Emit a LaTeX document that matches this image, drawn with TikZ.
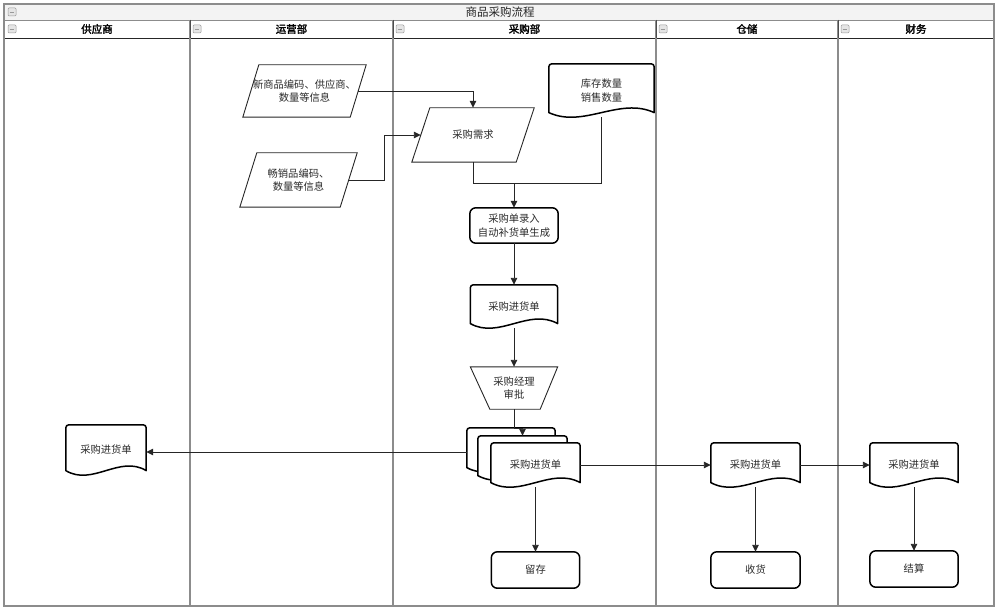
\documentclass[tikz,border=0pt]{standalone}
\usepackage{fontspec}
\setmainfont{Noto Sans CJK SC}
\newfontfamily\cjkbold{Noto Sans CJK SC}[FakeBold=2]
\usetikzlibrary{calc,arrows.meta}
\pgfdeclarelayer{background}
\pgfsetlayers{background,main}
\definecolor{lanegray}{HTML}{8C8C8C}
\definecolor{titlefill}{HTML}{F3F3F3}
\definecolor{txtcol}{HTML}{2B2B2B}
\definecolor{linecol}{HTML}{262626}
\tikzset{
  txt/.style={font=\fontsize{10.3}{13.5}\selectfont, align=center, text=txtcol, inner sep=0pt},
  boxnode/.style={txt, minimum width=#1},
  thickshape/.style={draw=black, line width=1.5pt, fill=white, line join=round},
  thinshape/.style={draw=black!85, line width=0.9pt, fill=white},
  arr/.style={draw=linecol, line width=0.9pt, -{Triangle[length=7pt,width=6.5pt]}},
  plainline/.style={draw=linecol, line width=0.9pt},
  hdr/.style={font=\cjkbold\fontsize{10.5}{12}\selectfont, text=black, inner sep=0pt},
  ttl/.style={font=\fontsize{11.5}{13}\selectfont, text=black!85, inner sep=0pt},
  iconbox/.style={draw=gray!80, fill=gray!20, rounded corners=1pt, line width=0.5pt}
}
% document outline: top corners rounded, bottom wave
\newcommand\docout[1]{%
  \draw[thickshape] ($(#1.south west)+(0,-4.6)$) [rounded corners=3pt] -- (#1.north west) -- (#1.north east) [sharp corners] -- ($(#1.south east)+(0,-4.6)$)
   .. controls ($(#1.south east)!0.33!(#1.south west)+(0,-20.6)$) and ($(#1.south east)!0.67!(#1.south west)+(0,11.4)$) .. ($(#1.south west)+(0,-4.6)$) -- cycle;}
% parallelogram outline
\newcommand\paraout[2]{%
  \draw[thinshape] ($(#1.north west)+(#2,0)$) -- ($(#1.north east)+(#2,0)$) -- ($(#1.south east)+(-#2,0)$) -- ($(#1.south west)+(-#2,0)$) -- cycle;}
% rounded rectangle outline
\newcommand\rrout[1]{%
  \draw[thickshape, rounded corners=6pt] (#1.south west) rectangle (#1.north east);}
% collapse icon
\newcommand\collapseicon[2]{%
  \draw[iconbox] (#1-4,#2-4) rectangle (#1+4,#2+4);
  \draw[gray!80, line width=0.7pt] (#1-2.3,#2) -- (#1+2.3,#2);}
\begin{document}
\begin{tikzpicture}[x=1pt,y=-1pt]
\useasboundingbox (0,0) rectangle (1000,612);

% ---------- nodes ----------
\node[ttl] (title) at (500,12) {商品采购流程};
\node[hdr] (h1) at (97,29) {供应商};
\node[hdr] (h2) at (291.5,29) {运营部};
\node[hdr] (h3) at (524.5,29) {采购部};
\node[hdr] (h4) at (747,29) {仓储};
\node[hdr] (h5) at (916,29) {财务};

\node[boxnode=107pt, minimum height=52pt] (P1) at (304.5,91) {新商品编码、供应商、\\数量等信息};
\node[boxnode=100pt, minimum height=54pt] (P2) at (298.5,180) {畅销品编码、\\数量等信息};
\node[boxnode=104pt, minimum height=54pt] (P3) at (473,135) {采购需求};
\node[boxnode=105pt, minimum height=53pt] (D1) at (601.5,90.5) {库存数量\\销售数量};
\node[boxnode=88pt, minimum height=35pt] (R1) at (514,225.5) {采购单录入\\自动补货单生成};
\node[boxnode=87pt, minimum height=43pt] (D2) at (514,306.5) {采购进货单};
\node[boxnode=87pt, minimum height=42pt] (T1) at (514,388) {采购经理\\审批};
\node[boxnode=88pt, minimum height=44pt] (M1) at (511,450) {};
\node[boxnode=89pt, minimum height=44pt] (M2) at (522.5,458) {};
\node[boxnode=89pt, minimum height=44pt] (M3) at (535.5,465) {采购进货单};
\node[boxnode=80pt, minimum height=50pt] (DS) at (106,450) {采购进货单};
\node[boxnode=89pt, minimum height=44pt] (DW) at (755.5,465) {采购进货单};
\node[boxnode=88pt, minimum height=44pt] (DF) at (914,465) {采购进货单};
\node[boxnode=88pt, minimum height=36pt] (R2) at (535.5,570) {留存};
\node[boxnode=89pt, minimum height=36pt] (R3) at (755.5,570) {收货};
\node[boxnode=88pt, minimum height=36pt] (R4) at (914,569) {结算};

% ---------- background: lanes and shape outlines ----------
\begin{pgfonlayer}{background}
  \fill[titlefill] (4,4) rectangle (994,20);
  \draw[lanegray, line width=0.8pt] (4,20) -- (994,20);
  \draw[black!85, line width=0.9pt] (4,38) -- (994,38);
  \foreach \xx in {190,393,656,838} {
    \draw[lanegray, line width=1.2pt] (\xx,20) -- (\xx,606);
    \draw[black!70, line width=1pt] (\xx,20) -- (\xx,38);
  }
  \draw[lanegray, line width=1.3pt] (4,4) rectangle (994,606);
  \collapseicon{12}{12}
  \collapseicon{12}{29}
  \collapseicon{197}{29}
  \collapseicon{400}{29}
  \collapseicon{663}{29}
  \collapseicon{845}{29}

  \paraout{P1}{8}
  \paraout{P2}{8.5}
  \paraout{P3}{9}
  \docout{D1}
  \rrout{R1}
  \docout{D2}
  \draw[thinshape] (T1.north west) -- (T1.north east) -- ($(T1.south east)+(-17.5,0)$) -- ($(T1.south west)+(19.5,0)$) -- cycle;
  \docout{M1}
  \docout{M2}
  \docout{M3}
  \docout{DS}
  \docout{DW}
  \docout{DF}
  \rrout{R2}
  \rrout{R3}
  \rrout{R4}
\end{pgfonlayer}

% ---------- connectors ----------
\coordinate (j1) at (514,183);
\draw[arr] (P1.east) -| (P3.north);
\draw[arr] (P2.east) -- ++(35.5,0) |- (P3.west);
\draw[arr] (P3.south) |- (j1) -- (R1.north);
\draw[plainline] (D1.south) |- (j1);
\draw[arr] (R1.south) -- (D2.north);
\draw[arr] (D2.south) -- (T1.north);
\draw[arr] (T1.south) -- ++(0,19) -| (M2.north);
\draw[arr] ([yshift=-2pt]M1.west) -- ([yshift=-2pt]M1.west -| DS.east);
\draw[arr] (M3.east) -- (DW.west);
\draw[arr] (DW.east) -- (DF.west);
\draw[arr] (M3.south) -- (R2.north);
\draw[arr] (DW.south) -- (R3.north);
\draw[arr] (DF.south) -- (R4.north);
\end{tikzpicture}
\end{document}
